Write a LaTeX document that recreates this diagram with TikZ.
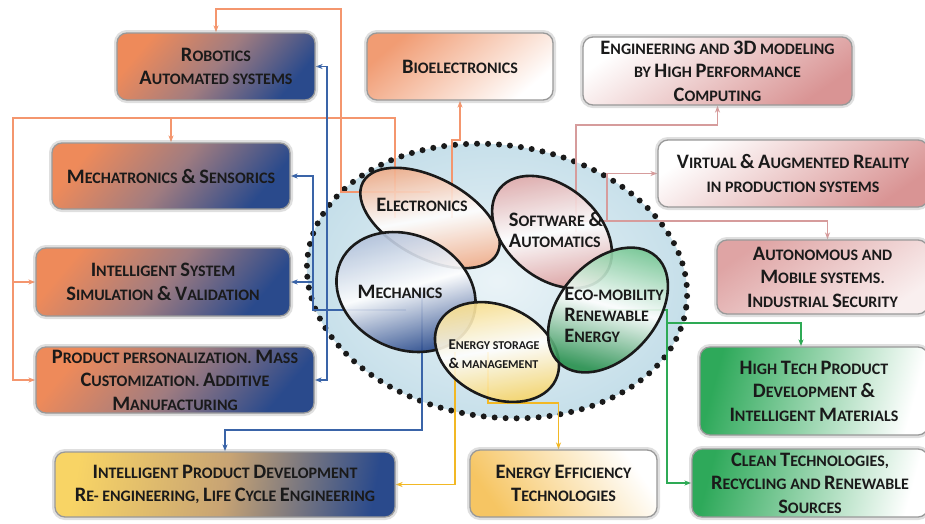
\documentclass[tikz,border=0pt]{standalone}
\usepackage{fontspec}
\setmainfont{Carlito}
\usepackage{tikz}
\usetikzlibrary{shapes.geometric,arrows.meta}
\pgfdeclarelayer{back}
\pgfdeclarelayer{mid}
\pgfsetlayers{back,mid,main}
\definecolor{ink}{HTML}{1A1A1A}
\definecolor{orng}{HTML}{EE8A5A}
\definecolor{navy}{HTML}{2A4A8C}
\definecolor{mauve}{HTML}{A07C80}
\definecolor{rose}{HTML}{D99494}
\definecolor{leaf}{HTML}{2EA95A}
\definecolor{sun}{HTML}{F8D465}
\definecolor{hub}{HTML}{C4DEE9}
\definecolor{peach}{HTML}{F0A882}
\definecolor{steel}{HTML}{A9BAD6}
\definecolor{lorng}{HTML}{F4966E}
\definecolor{lblue}{HTML}{3A64A8}
\definecolor{lrose}{HTML}{D69C9C}
\definecolor{lyel}{HTML}{F2B824}
\definecolor{lgrn}{HTML}{2EAA55}
\newcommand\Ini[1]{{\fontsize{20.5}{23.5}\selectfont #1}}
\newcommand\Inis[1]{{\fontsize{15}{17}\selectfont #1}}
\tikzset{
  box/.style={rounded corners=10pt, draw=black!40, line width=1.3pt, align=center, inner sep=0pt,
    text=ink, font=\bfseries\fontsize{16}{23.5}\selectfont,
    preaction={draw=black!35, line width=6pt, draw opacity=0.35}},
  obox/.style={box, top color=orng, bottom color=navy, middle color=mauve, shading angle=50},
  pbox/.style={box, top color=orng!85, bottom color=white, shading angle=40},
  rbox/.style={box, top color=white, bottom color=rose, shading angle=35},
  gbox/.style={box, top color=leaf, bottom color=white, shading angle=75},
  ybox/.style={box, top color=sun, bottom color=navy, middle color=sun!45!mauve, shading angle=80},
  ebox/.style={box, top color=sun!80!orng, bottom color=white, shading angle=125},
  blob/.style={ellipse, draw=ink, line width=2.6pt, inner sep=0pt, fill opacity=0.9},
  txt/.style={text=ink, font=\bfseries\fontsize{16}{21}\selectfont, inner sep=0pt},
  hubfill/.style={inner color=hub!35, outer color=hub},
  hubdots/.style={draw=ink, line width=6pt, line cap=round, dash pattern=on 0pt off 11pt},
  link/.style={line width=1.8pt, -{Stealth[length=7pt,width=5pt]}},
  ora/.style={link, draw=lorng},
  blu/.style={link, draw=lblue},
  ros/.style={link, draw=lrose},
  yel/.style={link, draw=lyel},
  grn/.style={link, draw=lgrn},
}
\begin{document}
\begin{tikzpicture}[x=1pt,y=-1pt]
  \useasboundingbox (0,0) rectangle (925,523);
  % hub
  \begin{pgfonlayer}{back}
    \fill[white] (0,0) rectangle (925,523);
    \begin{scope}[shift={(497,281)}, rotate=-8]
      \shade[hubfill] (0,0) ellipse [x radius=191, y radius=136];
      \draw[hubdots] (0,0) ellipse [x radius=191, y radius=136];
    \end{scope}
  \end{pgfonlayer}
  % fields
  \node[blob, minimum width=152pt, minimum height=80pt, rotate=-28,
        top color=peach, bottom color=peach, middle color=white, shading angle=10] (elec) at (430,218) {};
  \node[blob, minimum width=136pt, minimum height=92pt, rotate=-40,
        top color=rose!85, bottom color=rose, middle color=white, shading angle=10] (soft) at (552,232) {};
  \node[blob, minimum width=144pt, minimum height=114pt, rotate=-25,
        top color=steel, bottom color=navy, middle color=white, shading angle=15] (mechan) at (406,292) {};
  \node[blob, minimum width=130pt, minimum height=92pt, rotate=-25,
        top color=sun!85, bottom color=sun, middle color=white, shading angle=10] (energy) at (497,352) {};
  \node[blob, minimum width=144pt, minimum height=96pt, rotate=48,
        top color=leaf!70, bottom color=leaf!85!black, middle color=white, shading angle=-15] (eco) at (608,310) {};
  \node[txt] (elecT) at (422,205) {\Ini{E}LECTRONICS};
  \node[txt, align=left] (softT) at (556,230) {\Ini{S}OFTWARE \Ini{\&}\\\Ini{A}UTOMATICS};
  \node[txt] (mechanT) at (400,292) {\Ini{M}ECHANICS};
  \node[txt, align=left, font=\bfseries\fontsize{12}{19}\selectfont] (energyT) at (494,354)
    {\Inis{E}NERGY STORAGE\\\Inis{\&} MANAGEMENT};
  \node[txt, align=left] (ecoT) at (614,315) {\Ini{E}CO-MOBILITY\\\Ini{R}ENEWABLE\\\Ini{E}NERGY};
  % boxes
  \node[obox, minimum width=198pt, minimum height=67pt] (robo) at (216,66.5)
    {\Ini{R}OBOTICS\\\Ini{A}UTOMATED SYSTEMS};
  \node[pbox, minimum width=186pt, minimum height=67pt] (bioel) at (460,66.5)
    {\Ini{B}IOELECTRONICS};
  \node[rbox, minimum width=269pt, minimum height=68pt] (hpc) at (717.5,71)
    {\Ini{E}NGINEERING AND \Ini{3D} MODELING\\BY \Ini{H}IGH \Ini{P}ERFORMANCE\\\Ini{C}OMPUTING};
  \node[obox, minimum width=238pt, minimum height=66pt] (mechtr) at (171,176)
    {\Ini{M}ECHATRONICS \Ini{\&} \Ini{S}ENSORICS};
  \node[rbox, minimum width=270pt, minimum height=67pt] (virt) at (793,173.5)
    {\Ini{V}IRTUAL \Ini{\&} \Ini{A}UGMENTED \Ini{R}EALITY\\IN PRODUCTION SYSTEMS};
  \node[obox, minimum width=254pt, minimum height=68pt] (isim) at (163,282)
    {\Ini{I}NTELLIGENT \Ini{S}YSTEM\\\Ini{S}IMULATION \Ini{\&} \Ini{V}ALIDATION};
  \node[rbox, top color=rose!85, bottom color=white!85!rose, shading angle=35,
        minimum width=211pt, minimum height=74pt] (auton) at (822.5,277)
    {\Ini{A}UTONOMOUS AND\\\Ini{M}OBILE SYSTEMS.\\\Ini{I}NDUSTRIAL \Ini{S}ECURITY};
  \node[obox, minimum width=278pt, minimum height=66pt] (perso) at (175,380)
    {\Ini{P}RODUCT PERSONALIZATION. \Ini{M}ASS\\\Ini{C}USTOMIZATION. \Ini{A}DDITIVE\\\Ini{M}ANUFACTURING};
  \node[gbox, minimum width=228pt, minimum height=88pt] (hitech) at (814,391)
    {\Ini{H}IGH \Ini{T}ECH \Ini{P}RODUCT\\\Ini{D}EVELOPMENT \Ini{\&}\\\Ini{I}NTELLIGENT \Ini{M}ATERIALS};
  \node[ybox, minimum width=340pt, minimum height=65pt] (ipd) at (225,484.5)
    {\Ini{I}NTELLIGENT \Ini{P}RODUCT \Ini{D}EVELOPMENT\\\Ini{R}E- ENGINEERING, \Ini{L}IFE \Ini{C}YCLE \Ini{E}NGINEERING};
  \node[ebox, minimum width=187pt, minimum height=67pt] (effic) at (563.5,483.5)
    {\Ini{E}NERGY \Ini{E}FFICIENCY\\\Ini{T}ECHNOLOGIES};
  \node[gbox, minimum width=236pt, minimum height=68pt] (clean) at (810,483)
    {\Ini{C}LEAN \Ini{T}ECHNOLOGIES,\\\Ini{R}ECYCLING AND \Ini{R}ENEWABLE\\\Ini{S}OURCES};
  % links
  \begin{pgfonlayer}{mid}
    \coordinate (oturn) at (13,118);
    \draw[ora] ([yshift=26pt]elec.center) -- (341,192) -- (341,9) -| (robo.north);
    \draw[ora] ([xshift=-35pt]elec.center) -- (395,118) -| (mechtr.north);
    \draw[ora] ([xshift=-35pt]elec.center) |- (oturn) |- (isim.west);
    \draw[ora] (oturn) |- (perso.west);
    \draw[ora] ([xshift=22pt]elec.center) -- (452,140) -| (bioel.south);
    \draw[blu] ([yshift=-18pt]mechan.center) -| (327,66.5) -- (robo.east);
    \draw[blu] ([yshift=-18pt]mechan.center) -| (327,380) -- (perso.east);
    \draw[blu] ([yshift=-18pt]mechan.center) -| (313,176) -- (mechtr.east);
    \draw[blu] ([yshift=-18pt]mechan.center) -| (313,282) -- (isim.east);
    \draw[blu] ([xshift=16pt]mechan.center) -- (422,430) -| (ipd.north);
    \draw[ros] ([xshift=24pt]soft.center) |- (717.5,125) -- (hpc.south);
    \draw[ros] ([yshift=11pt]soft.center) -- (607,221) |- (virt.west);
    \draw[ros] ([yshift=11pt]soft.center) -| ([xshift=5pt]auton.north);
    \draw[yel] ([xshift=-42pt]energy.center) |- (ipd.east);
    \draw[yel] ([xshift=-9pt]energy.center) -- (488,403) -| ([xshift=-5pt]effic.north);
    \draw[grn] (eco.center) -- (667,310) |- (clean.west);
    \draw[grn] (667,323) -| ([xshift=-13pt]hitech.north);
  \end{pgfonlayer}
\end{tikzpicture}
\end{document}
